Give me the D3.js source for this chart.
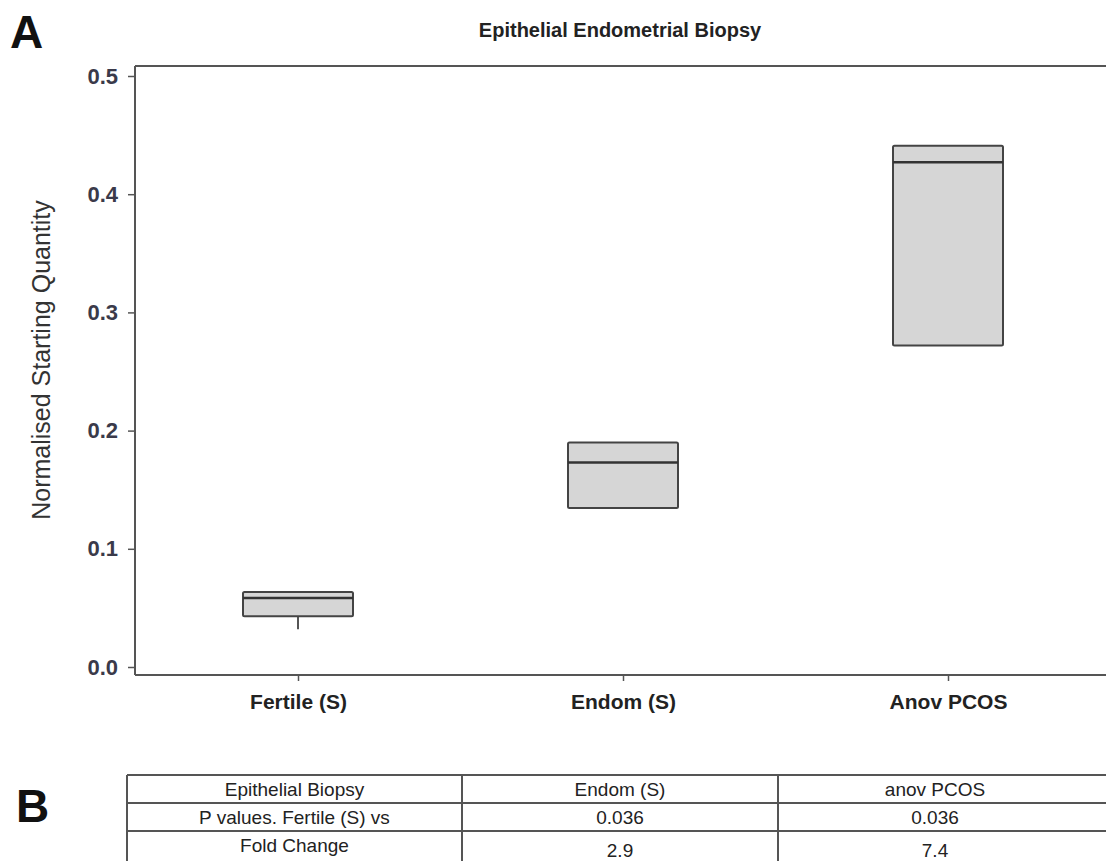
<!DOCTYPE html>
<html>
<head>
<meta charset="utf-8">
<script src="https://cdn.jsdelivr.net/npm/d3@7"></script>
<style>
  body { margin: 0; background: #fff; }
  svg { display: block; font-family: "Liberation Sans", Arial, sans-serif; }
</style>
</head>
<body>
<div id="chart"></div>
<script>
// box plot data
const categories = ['Fertile (S)', 'Endom (S)', 'Anov PCOS'];
const q1 = [0.043, 0.1345, 0.272];
const median = [0.0584, 0.173, 0.427];
const q3 = [0.0635, 0.190, 0.441];
const whiskerLow = [0.032, 0.1345, 0.272];
const whiskerHigh = [0.0635, 0.190, 0.441];
const yTicks = [0.0, 0.1, 0.2, 0.3, 0.4, 0.5];

// table B
const tableHeader = ['Epithelial Biopsy', 'Endom (S)', 'anov PCOS'];
const pValues = ['P values. Fertile  (S) vs', '0.036', '0.036'];
const foldChange = ['Fold Change', '2.9', '7.4'];

const width = 1106, height = 861;
const plotLeft = 135, plotTop = 66, plotBottom = 675, plotRight = 1106;

const svg = d3.select('#chart').append('svg')
  .attr('width', width)
  .attr('height', height);

const y = d3.scaleLinear().domain([0, 0.5]).range([667, 76]);
const x = d3.scalePoint().domain(categories).range([135.5, 1110.5]).padding(0.5);
const boxW = 110;

// panel letters
svg.append('text').attr('x', 10).attr('y', 48)
  .style('font-size', '46px').style('font-weight', 'bold').attr('fill', '#111').text('A');
svg.append('text').attr('x', 16).attr('y', 822)
  .style('font-size', '46px').style('font-weight', 'bold').attr('fill', '#111').text('B');

// title
svg.append('text')
  .attr('x', 620).attr('y', 37)
  .attr('text-anchor', 'middle')
  .style('font-size', '20px').style('font-weight', 'bold')
  .attr('fill', '#222')
  .text('Epithelial Endometrial Biopsy');

// frame
const frame = svg.append('g').attr('stroke', '#555').attr('stroke-width', 2).attr('fill', 'none');
frame.append('line').attr('x1', plotLeft).attr('x2', plotRight).attr('y1', plotTop).attr('y2', plotTop);
frame.append('line').attr('x1', plotLeft).attr('x2', plotLeft).attr('y1', plotTop).attr('y2', plotBottom);
frame.append('line').attr('x1', plotLeft).attr('x2', plotRight).attr('y1', plotBottom).attr('y2', plotBottom);

// y axis
const yAxis = svg.append('g')
  .attr('transform', `translate(${plotLeft},0)`)
  .call(d3.axisLeft(y).tickValues(yTicks).tickFormat(d3.format('.1f')).tickSize(7).tickPadding(10));
yAxis.select('.domain').remove();
yAxis.selectAll('line').attr('stroke', '#555').attr('stroke-width', 1.5);
yAxis.selectAll('text')
  .style('font-size', '22px').style('font-weight', 'bold')
  .attr('fill', '#3a3a4a');

// x axis
const xAxis = svg.append('g')
  .attr('transform', `translate(0,${plotBottom})`)
  .call(d3.axisBottom(x).tickSize(6).tickPadding(13));
xAxis.select('.domain').remove();
xAxis.selectAll('line').attr('stroke', '#555').attr('stroke-width', 1.5);
xAxis.selectAll('text')
  .style('font-size', '21px').style('font-weight', 'bold')
  .attr('fill', '#222');

// y label
svg.append('text')
  .attr('transform', 'translate(50,360) rotate(-90)')
  .attr('text-anchor', 'middle')
  .style('font-size', '25px')
  .attr('fill', '#333')
  .text('Normalised Starting Quantity');

// boxes
const boxes = svg.append('g').selectAll('.box')
  .data(categories)
  .enter()
  .append('g')
  .attr('class', 'box');

boxes.append('line')
  .attr('x1', d => x(d)).attr('x2', d => x(d))
  .attr('y1', (d, i) => y(whiskerLow[i])).attr('y2', (d, i) => y(q1[i]))
  .attr('stroke', '#555').attr('stroke-width', 2);
boxes.append('line')
  .attr('x1', d => x(d)).attr('x2', d => x(d))
  .attr('y1', (d, i) => y(whiskerHigh[i])).attr('y2', (d, i) => y(q3[i]))
  .attr('stroke', '#555').attr('stroke-width', 2);

boxes.append('rect')
  .attr('x', d => x(d) - boxW / 2)
  .attr('width', boxW)
  .attr('y', (d, i) => y(q3[i]))
  .attr('height', (d, i) => y(q1[i]) - y(q3[i]))
  .attr('fill', '#d6d6d6')
  .attr('stroke', '#444')
  .attr('stroke-width', 2)
  .attr('rx', 1.5);

boxes.append('line')
  .attr('x1', d => x(d) - boxW / 2).attr('x2', d => x(d) + boxW / 2)
  .attr('y1', (d, i) => y(median[i])).attr('y2', (d, i) => y(median[i]))
  .attr('stroke', '#333').attr('stroke-width', 2.5);

// table
const colX = [127, 462, 778, 1092];
const rowY = [775, 803, 831, 875];
const rows = [tableHeader, pValues, foldChange];
const tbl = svg.append('g');
const tl = tbl.append('g').attr('stroke', '#555').attr('stroke-width', 2);
rowY.slice(0, 3).forEach(ry => {
  tl.append('line').attr('x1', colX[0]).attr('x2', width).attr('y1', ry).attr('y2', ry);
});
colX.slice(0, 3).forEach(cx => {
  tl.append('line').attr('x1', cx).attr('x2', cx).attr('y1', rowY[0]).attr('y2', height);
});

rows.forEach((row, r) => {
  row.forEach((txt, c) => {
    let ty = rowY[r] + 21;
    if (r === 2 && c > 0) ty = rowY[r] + 26;
    tbl.append('text')
      .attr('x', (colX[c] + colX[c + 1]) / 2)
      .attr('y', ty)
      .attr('text-anchor', 'middle')
      .style('font-family', '"Liberation Sans Narrow", "Arial Narrow", "Liberation Sans", sans-serif')
      .style('font-size', '19px')
      .attr('fill', '#222')
      .text(txt);
  });
});
</script>
</body>
</html>
